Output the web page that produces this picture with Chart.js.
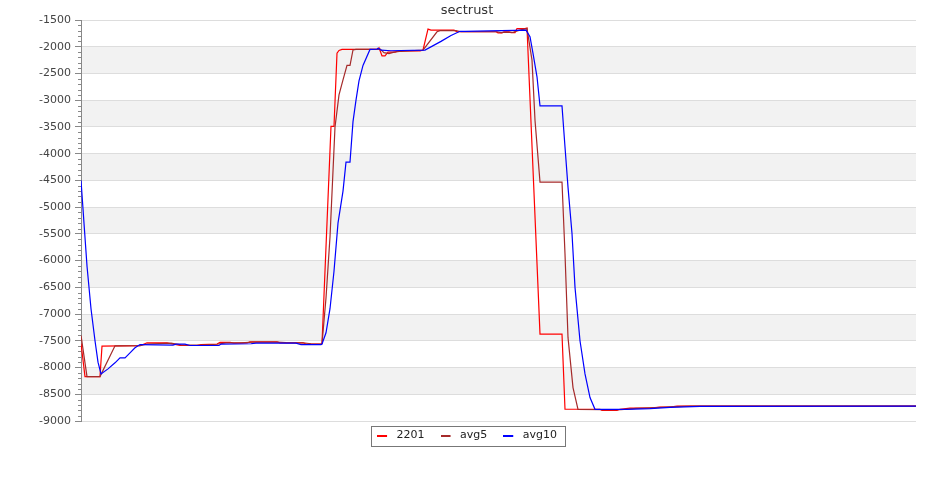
<!DOCTYPE html>
<html>
<head>
<meta charset="utf-8">
<title>sectrust</title>
<script src="https://cdn.jsdelivr.net/npm/chart.js@4/dist/chart.umd.min.js"></script>
<style>
  body { margin: 0; background: #fff; }
  #wrap { width: 935px; height: 500px; }
</style>
</head>
<body>
<div id="wrap"><canvas id="chart" width="935" height="500"></canvas></div>
<script>
// sample times (arbitrary units) and values
const t2201 = [0, 4, 19, 21, 59, 62, 66, 86, 90, 99, 116, 120, 136, 139, 149, 153, 166, 169, 196, 199, 222, 225, 240, 241,
  250, 253, 256, 258, 261, 297, 298, 301, 304, 307, 314, 317, 339, 342, 347, 350, 373, 376, 415, 417, 421, 423, 428, 430,
  434, 436, 444, 446, 459, 481, 484, 519, 521, 536, 539, 549, 569, 579, 589, 596, 835];
const v2201 = [-7550, -8170, -8170, -7600, -7590, -7570, -7537, -7537, -7555, -7588, -7588, -7570, -7560, -7531, -7531, -7545, -7540, -7519, -7519, -7537, -7537, -7560, -7560, -7550,
  -3490, -3490, -2120, -2070, -2050, -2050, -2020, -2170, -2170, -2100, -2100, -2080, -2080, -2060, -1670, -1690, -1690, -1720, -1720, -1740, -1740, -1720, -1720, -1735,
  -1735, -1660, -1660, -1650, -7375, -7375, -8780, -8780, -8800, -8800, -8780, -8760, -8760, -8740, -8740, -8720, -8720];

const tAvg5 = [0, 6, 19, 34, 59, 66, 90, 100, 120, 136, 145, 160, 172, 196, 205, 222, 230, 240, 241,
  245, 249, 254, 258, 262, 266, 269, 272, 275, 297, 299, 303, 308, 313, 320, 342, 356, 359, 375, 380, 416, 420, 425, 432, 437, 443, 446,
  451, 454, 459, 481, 484, 487, 492, 497, 522, 540, 555, 575, 595, 610, 835];
const vAvg5 = [-7400, -8170, -8170, -7594, -7590, -7560, -7545, -7575, -7580, -7565, -7540, -7540, -7525, -7522, -7535, -7537, -7555, -7560, -7555,
  -6700, -5560, -3500, -2900, -2620, -2350, -2350, -2060, -2050, -2050, -2040, -2110, -2130, -2100, -2085, -2065, -1720, -1700, -1700, -1720, -1720, -1735, -1725, -1732, -1700, -1670, -1660,
  -2250, -3375, -4531, -4531, -5875, -7437, -8375, -8781, -8790, -8790, -8765, -8750, -8730, -8720, -8720];

const tAvg10 = [0, 3, 6, 10, 14, 17, 20, 27, 34, 39, 44, 49, 54, 59, 92, 95, 104, 109, 138, 140, 170, 175, 215, 220, 240,
  241, 245, 249, 253, 257, 262, 265, 269, 272, 275, 278, 282, 289, 296, 297, 300, 310, 320, 344, 360, 370, 379, 384, 445,
  449, 452, 456, 459, 481, 484, 487, 491, 494, 499, 504, 509, 514, 545, 569, 589, 619, 835];
const vAvg10 = [-4500, -5300, -6100, -6900, -7500, -7900, -8119, -8025, -7912, -7819, -7819, -7725, -7631, -7570, -7580, -7562, -7562, -7588, -7588, -7562, -7555, -7545, -7545, -7570, -7570,
  -7560, -7350, -6900, -6200, -5300, -4700, -4160, -4160, -3400, -3000, -2640, -2350, -2050, -2045, -2030, -2065, -2075, -2070, -2062, -1900, -1790, -1710, -1712, -1690,
  -1812, -2125, -2562, -3106, -3106, -3875, -4625, -5494, -6500, -7500, -8119, -8562, -8781, -8781, -8769, -8744, -8725, -8720];

const seriesNames = ['2201', 'avg5', 'avg10'];
const seriesColors = ['#ff0000', '#a52a2a', '#0000ff'];

const yMin = -9000, yMax = -1500, yStep = 500, yMinorStep = 100;

function toPoints(ts, vs) {
  return ts.map((t, i) => ({ x: t, y: vs[i] }));
}

// little line marker for the legend: 10px line, some room after it
function legendMarker(color) {
  const c = document.createElement('canvas');
  c.width = 14;
  c.height = 2;
  const g = c.getContext('2d');
  g.fillStyle = color;
  g.fillRect(0, 0, 10, 2);
  return c;
}
const markers = seriesColors.map(legendMarker);

// grey bands between every other pair of gridlines
const bandsPlugin = {
  id: 'bands',
  beforeDraw(chart) {
    const { ctx, chartArea: a, scales: { y } } = chart;
    ctx.save();
    ctx.fillStyle = '#f2f2f2';
    for (let v = -2000; v > yMin; v -= 1000) {
      const top = y.getPixelForValue(v);
      const bot = y.getPixelForValue(v - 500);
      ctx.fillRect(a.left, top, a.right - a.left, bot - top);
    }
    ctx.restore();
  }
};

// pull the legend closer to the plot, centre title + legend on the canvas
const layoutTweaks = {
  id: 'layoutTweaks',
  afterLayout(chart) {
    const lg = chart.legend;
    lg.top -= 7;
    lg.bottom -= 7;
    lg.left += 9;
    lg.right += 9;
    const tb = chart.titleBlock;
    tb.left += 9;
    tb.right += 9;
  }
};

// small ticks every 100 + box round the legend
const extrasPlugin = {
  id: 'extras',
  afterDraw(chart) {
    const { ctx, chartArea: a, scales: { y } } = chart;
    ctx.save();
    ctx.strokeStyle = '#888';
    ctx.lineWidth = 1;
    ctx.beginPath();
    for (let v = yMin; v <= yMax; v += yMinorStep) {
      if (v % yStep === 0) continue;
      const py = Math.round(y.getPixelForValue(v)) + 0.5;
      ctx.moveTo(a.left - 3, py);
      ctx.lineTo(a.left, py);
    }
    ctx.stroke();

    const boxes = chart.legend.legendHitBoxes;
    if (boxes && boxes.length) {
      const first = boxes[0], last = boxes[boxes.length - 1];
      const left = Math.round(first.left - 6) + 0.5;
      const right = Math.round(last.left + last.width + 8) + 0.5;
      const mid = first.top + first.height / 2;
      const top = Math.round(mid - 10) + 0.5;
      ctx.strokeStyle = '#777';
      ctx.strokeRect(left, top, right - left, 20);
    }
    ctx.restore();
  }
};

new Chart(document.getElementById('chart'), {
  type: 'line',
  data: {
    datasets: [
      { label: seriesNames[0], data: toPoints(t2201, v2201), borderColor: seriesColors[0], backgroundColor: seriesColors[0], order: 3 },
      { label: seriesNames[1], data: toPoints(tAvg5, vAvg5), borderColor: seriesColors[1], backgroundColor: seriesColors[1], order: 2 },
      { label: seriesNames[2], data: toPoints(tAvg10, vAvg10), borderColor: seriesColors[2], backgroundColor: seriesColors[2], order: 1 }
    ]
  },
  options: {
    responsive: false,
    animation: false,
    events: [],
    layout: { padding: { left: 0, right: 19, top: 0, bottom: 42 } },
    elements: {
      point: { radius: 0 },
      line: { borderWidth: 1.2, tension: 0 }
    },
    plugins: {
      title: {
        display: true,
        text: 'sectrust',
        color: '#333',
        font: { family: 'DejaVu Sans', size: 13, weight: 'normal' },
        padding: { top: 3, bottom: 1.4 }
      },
      legend: {
        position: 'bottom',
        labels: {
          usePointStyle: true,
          pointStyleWidth: 14,
          padding: 16,
          color: '#222',
          font: { family: 'DejaVu Sans', size: 11 },
          sort: (a, b) => a.datasetIndex - b.datasetIndex,
          generateLabels(chart) {
            return Chart.defaults.plugins.legend.labels.generateLabels(chart)
              .map(item => ({ ...item, lineWidth: 0, pointStyle: markers[item.datasetIndex] }));
          }
        }
      },
      tooltip: { enabled: false }
    },
    scales: {
      x: { type: 'linear', min: 0, max: 835, display: false },
      y: {
        min: yMin,
        max: yMax,
        afterFit(scale) { scale.width = 81; },
        ticks: {
          stepSize: yStep,
          padding: 4,
          color: '#444',
          font: { family: 'DejaVu Sans', size: 11 },
          callback: v => String(v)
        },
        grid: { color: '#dddddd', tickColor: '#888', tickLength: 6, lineWidth: 1 },
        border: { display: true, color: '#888' }
      }
    }
  },
  plugins: [bandsPlugin, layoutTweaks, extrasPlugin]
});
</script>
</body>
</html>
